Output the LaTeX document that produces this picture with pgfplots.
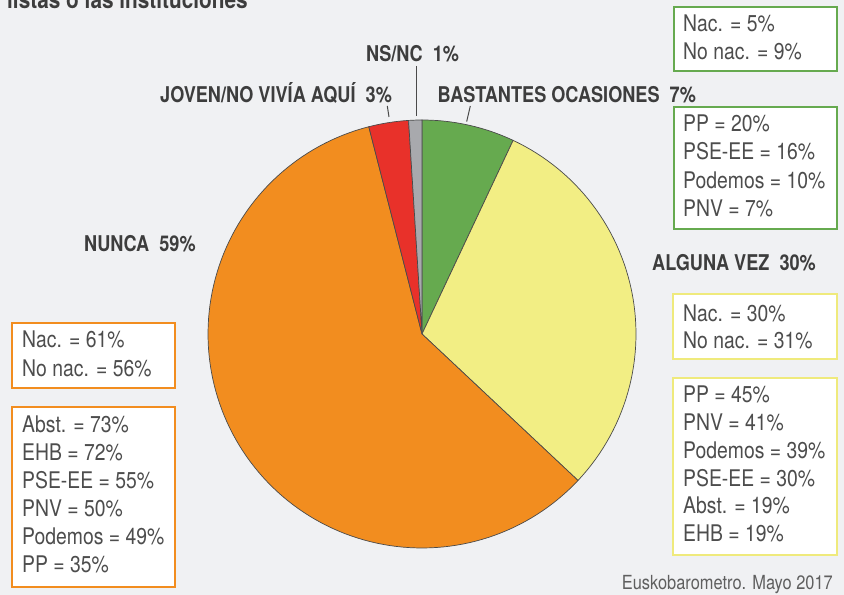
\documentclass[border=0pt]{standalone}
\usepackage{pgfplots}
\pgfplotsset{compat=1.18}
\usepackage{fontspec}
\setmainfont{TeX Gyre Heros}[FakeStretch=0.845]
\newfontfamily\labf{TeX Gyre Heros}[FakeStretch=0.835]
\definecolor{bg}{HTML}{F0F1F3}
\definecolor{cgreen}{HTML}{66AA4F}
\definecolor{cyellow}{HTML}{F2EE84}
\definecolor{byellow}{HTML}{EFEA7C}
\definecolor{corange}{HTML}{F28D1F}
\definecolor{cred}{HTML}{E8312A}
\definecolor{cgrey}{HTML}{A8A9AD}
\definecolor{txt}{HTML}{3D3D3D}
\definecolor{boxtxt}{HTML}{4D4D4D}
\definecolor{edge}{HTML}{4A4A4A}
\tikzset{
  lab/.style={anchor=base west, inner sep=0pt, text=txt, font=\labf\bfseries\fontsize{21.8}{24}\selectfont},
  bt/.style={anchor=base west, inner sep=0pt, text=boxtxt, font=\fontsize{23}{26}\selectfont},
}
\begin{document}
\begin{tikzpicture}[x=1bp,y=1bp]
\useasboundingbox (0,0) rectangle (844,595);
\fill[bg] (0,0) rectangle (844,595);
\begin{scope}
\clip (0,0) rectangle (844,595);
\node[anchor=base west, inner sep=0pt, text=txt, font=\labf\bfseries\fontsize{25}{28}\selectfont] at (7,595-9) {listas o las instituciones};
\end{scope}
\begin{axis}[at={(422bp,261bp)}, anchor=center, scale only axis, width=428bp, height=428bp,
  xmin=-1, xmax=1, ymin=-1, ymax=1, hide axis, clip=false]
% Bastantes ocasiones 7
\addplot[fill=cgreen, draw=edge, line width=0.7bp, domain={90-3.6*7}:90, samples=20] ({cos(x)},{sin(x)}) -- (axis cs:0,0) -- cycle;
% Alguna vez 30
\addplot[fill=cyellow, draw=edge, line width=0.7bp, domain={90-3.6*37}:{90-3.6*7}, samples=60] ({cos(x)},{sin(x)}) -- (axis cs:0,0) -- cycle;
% Nunca 59
\addplot[fill=corange, draw=edge, line width=0.7bp, domain={90-3.6*96}:{90-3.6*37}, samples=120] ({cos(x)},{sin(x)}) -- (axis cs:0,0) -- cycle;
% Joven/no vivia aqui 3
\addplot[fill=cred, draw=edge, line width=0.7bp, domain={90-3.6*99}:{90-3.6*96}, samples=10] ({cos(x)},{sin(x)}) -- (axis cs:0,0) -- cycle;
% NS/NC 1
\addplot[fill=cgrey, draw=edge, line width=0.7bp, domain={90-3.6*100}:{90-3.6*99}, samples=5] ({cos(x)},{sin(x)}) -- (axis cs:0,0) -- cycle;
\end{axis}
% leader lines
\draw[edge, line width=1bp] (416,595-66) -- (416,595-116);
\draw[edge, line width=1bp] (387.3,595-106) -- (389,595-117);
\draw[edge, line width=1bp] (470.3,595-106) -- (466.7,595-121.5);
% labels
\node[lab] at (366,595-61.4) {NS/NC\ \ 1\%};
\node[lab] at (160,595-102.5) {JOVEN/NO VIVÍA AQUÍ\ \ 3\%};
\node[lab] at (437.5,595-102.5) {BASTANTES OCASIONES\ \ 7\%};
\node[lab] at (84,595-252) {NUNCA\ \ 59\%};
\node[lab] at (652,595-270.7) {ALGUNA VEZ\ \ 30\%};
% green boxes
\draw[cgreen, line width=2.6bp, fill=white] (674,595-7) rectangle (837,595-71);
\node[bt] at (683,595-31.7) {Nac. = 5\%};
\node[bt] at (683,595-60) {No nac. = 9\%};
\draw[cgreen, line width=2.6bp, fill=white] (674,595-107) rectangle (837,595-229);
\node[bt] at (683,595-131.7) {PP = 20\%};
\node[bt] at (683,595-160) {PSE-EE = 16\%};
\node[bt] at (683,595-188.3) {Podemos = 10\%};
\node[bt] at (683,595-216.7) {PNV = 7\%};
% yellow boxes
\draw[byellow, line width=2.6bp, fill=white] (673,595-294) rectangle (837,595-359);
\node[bt] at (683,595-321.7) {Nac. = 30\%};
\node[bt] at (683,595-348.3) {No nac. = 31\%};
\draw[byellow, line width=2.6bp, fill=white] (673,595-378) rectangle (837,595-555);
\node[bt] at (683,595-403) {PP = 45\%};
\node[bt] at (683,595-430.5) {PNV = 41\%};
\node[bt] at (683,595-458.5) {Podemos = 39\%};
\node[bt] at (683,595-486.5) {PSE-EE = 30\%};
\node[bt] at (683,595-514) {Abst. = 19\%};
\node[bt] at (683,595-542) {EHB = 19\%};
% orange boxes
\draw[corange, line width=2.6bp, fill=white] (12,595-323) rectangle (175,595-388);
\node[bt] at (22,595-348) {Nac. = 61\%};
\node[bt] at (22,595-377) {No nac. = 56\%};
\draw[corange, line width=2.6bp, fill=white] (12,595-407) rectangle (175,595-587);
\node[bt] at (22,595-433) {Abst. = 73\%};
\node[bt] at (22,595-460.5) {EHB = 72\%};
\node[bt] at (22,595-488.5) {PSE-EE = 55\%};
\node[bt] at (22,595-516.5) {PNV = 50\%};
\node[bt] at (22,595-544.5) {Podemos = 49\%};
\node[bt] at (22,595-573) {PP = 35\%};
% source
\node[anchor=base east, inner sep=0pt, text=boxtxt!90!white, font=\fontsize{19.5}{22}\selectfont] at (833,595-590) {Euskobarometro. Mayo 2017};
\end{tikzpicture}
\end{document}
